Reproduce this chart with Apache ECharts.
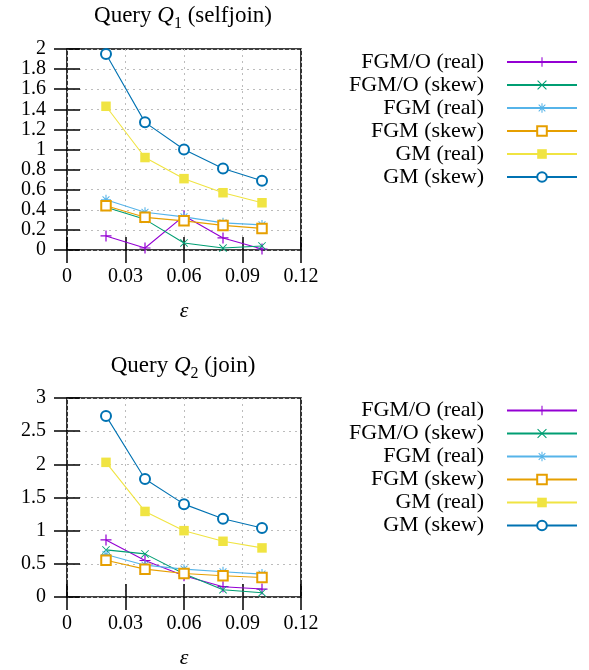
<!DOCTYPE html>
<html>
<head>
<meta charset="utf-8">
<script src="https://cdn.jsdelivr.net/npm/echarts@6/dist/echarts.min.js"></script>
<style>html,body{margin:0;padding:0;background:#fff;}#c{width:589px;height:670px;}</style>
</head>
<body>
<div id="c"></div>
<script>
// ---- data ----
const eps = [0.02, 0.04, 0.06, 0.08, 0.10];
const seriesNames = ['FGM/O (real)', 'FGM/O (skew)', 'FGM (real)', 'FGM (skew)', 'GM (real)', 'GM (skew)'];
const xTicks = [0, 0.03, 0.06, 0.09, 0.12];

// Query Q1 (selfjoin)
const q1FgmoReal = [0.14, 0.02, 0.34, 0.12, 0.01];
const q1FgmoSkew = [0.425, 0.305, 0.07, 0.02, 0.04];
const q1FgmReal  = [0.50, 0.375, 0.33, 0.27, 0.25];
const q1FgmSkew  = [0.44, 0.325, 0.29, 0.245, 0.215];
const q1GmReal   = [1.43, 0.92, 0.71, 0.57, 0.47];
const q1GmSkew   = [1.95, 1.27, 1.00, 0.81, 0.69];

// Query Q2 (join)
const q2FgmoReal = [0.86, 0.55, 0.32, 0.155, 0.12];
const q2FgmoSkew = [0.71, 0.65, 0.35, 0.11, 0.065];
const q2FgmReal  = [0.64, 0.48, 0.42, 0.38, 0.345];
const q2FgmSkew  = [0.555, 0.42, 0.355, 0.32, 0.295];
const q2GmReal   = [2.03, 1.29, 1.00, 0.84, 0.74];
const q2GmSkew   = [2.73, 1.78, 1.40, 1.18, 1.04];

const q1Data = [q1FgmoReal, q1FgmoSkew, q1FgmReal, q1FgmSkew, q1GmReal, q1GmSkew];
const q2Data = [q2FgmoReal, q2FgmoSkew, q2FgmReal, q2FgmSkew, q2GmReal, q2GmSkew];

// ---- styles ----
const colors = ['#9400d3', '#009e73', '#56b4e9', '#e69f00', '#f0e442', '#0072b2'];
const PLUS = 'path://M0,4.45H10V5.55H0ZM4.45,0H5.55V10H4.45Z';
const CROSS = 'path://M0,0.8L0.8,0L10,9.2L9.2,10ZM9.2,0L10,0.8L0.8,10L0,9.2Z';
const STAR = 'path://M0,4.45H10V5.55H0ZM4.45,0H5.55V10H4.45ZM1.2,1.9L1.9,1.2L8.8,8.1L8.1,8.8ZM8.1,1.2L8.8,1.9L1.9,8.8L1.2,8.1Z';
const symbols = [PLUS, CROSS, STAR, 'emptyRect', 'rect', 'emptyCircle'];
const symbolSizes = [11, 8, 10, 9.5, 9.5, 10];
const FONT = 'Liberation Serif';

function makeSeries(data, xi, yi) {
  return data.map((vals, i) => ({
    type: 'line',
    name: seriesNames[i],
    xAxisIndex: xi,
    yAxisIndex: yi,
    data: eps.map((e, k) => [e, vals[k]]),
    symbol: symbols[i],
    symbolSize: symbolSizes[i],
    showSymbol: true,
    color: colors[i],
    lineStyle: { color: colors[i], width: 1.1 },
    itemStyle: { color: colors[i], borderColor: colors[i], borderWidth: (i === 3 || i === 5) ? 1.1 : 0 },
    emphasis: { disabled: true },
    animation: false,
    z: 3
  }));
}

function xAx(gi, pos, main) {
  return {
    type: 'value', gridIndex: gi, position: pos, min: 0, max: 0.12, interval: 0.03,
    axisLine: { show: false },
    axisTick: { show: true, inside: true, length: 13, lineStyle: { color: '#000', width: 1.5 } },
    axisLabel: { show: main, color: '#000', fontFamily: FONT, fontSize: 20, margin: 17 },
    splitLine: { show: main, lineStyle: { color: '#bcbcbc', type: [2, 4], width: 1 } },
    name: main ? 'ε' : '', nameLocation: 'middle', nameGap: 50,
    nameTextStyle: { fontFamily: FONT, fontSize: 22, fontStyle: 'italic', color: '#000' }
  };
}
function yAx(gi, pos, main, max, interval) {
  return {
    type: 'value', gridIndex: gi, position: pos, min: 0, max: max, interval: interval,
    axisLine: { show: false },
    axisTick: { show: true, inside: true, length: 13, lineStyle: { color: '#000', width: 1.5 } },
    axisLabel: { show: main, color: '#000', fontFamily: FONT, fontSize: 20, margin: 21 },
    splitLine: { show: main, lineStyle: { color: '#bcbcbc', type: [2, 4], width: 1 } }
  };
}
function legend(top) {
  return {
    data: seriesNames, orient: 'vertical', align: 'right', right: 11, top: top, padding: 0,
    itemWidth: 70, itemHeight: 12, itemGap: 0, selectedMode: false,
    textStyle: { fontFamily: FONT, fontSize: 22, color: '#000', lineHeight: 23, padding: [0, 18, 0, 0] }
  };
}
function titleText(y, sub, rest) {
  return {
    type: 'text', x: 183, y: y,
    style: {
      text: '{a|Query }{q|Q}{s|' + sub + '}{a| ' + rest + '}',
      align: 'center', verticalAlign: 'middle',
      rich: {
        a: { fontFamily: FONT, fontSize: 23, lineHeight: 27, verticalAlign: 'top', fill: '#000' },
        q: { fontFamily: FONT, fontSize: 23, fontStyle: 'italic', lineHeight: 27, verticalAlign: 'top', fill: '#000' },
        s: { fontFamily: FONT, fontSize: 16, lineHeight: 16, verticalAlign: 'bottom', fill: '#000' }
      }
    }
  };
}

const chart = echarts.init(document.getElementById('c'), null, { renderer: 'canvas' });
chart.setOption({
  backgroundColor: '#fff',
  animation: false,
  grid: [
    { left: 67, top: 49, width: 234, height: 201, show: true, borderColor: '#000', borderWidth: 1.6, backgroundColor: 'transparent' },
    { left: 67, top: 398, width: 234, height: 201, show: true, borderColor: '#000', borderWidth: 1.6, backgroundColor: 'transparent' }
  ],
  xAxis: [xAx(0, 'bottom', true), xAx(0, 'top', false), xAx(1, 'bottom', true), xAx(1, 'top', false)],
  yAxis: [yAx(0, 'left', true, 2, 0.2), yAx(0, 'right', false, 2, 0.2), yAx(1, 'left', true, 3, 0.5), yAx(1, 'right', false, 3, 0.5)],
  legend: [legend(50.5), legend(399)],
  graphic: [titleText(18, '1', '(selfjoin)'), titleText(368, '2', '(join)')],
  series: makeSeries(q1Data, 0, 0).concat(makeSeries(q2Data, 2, 2))
});
</script>
</body>
</html>
